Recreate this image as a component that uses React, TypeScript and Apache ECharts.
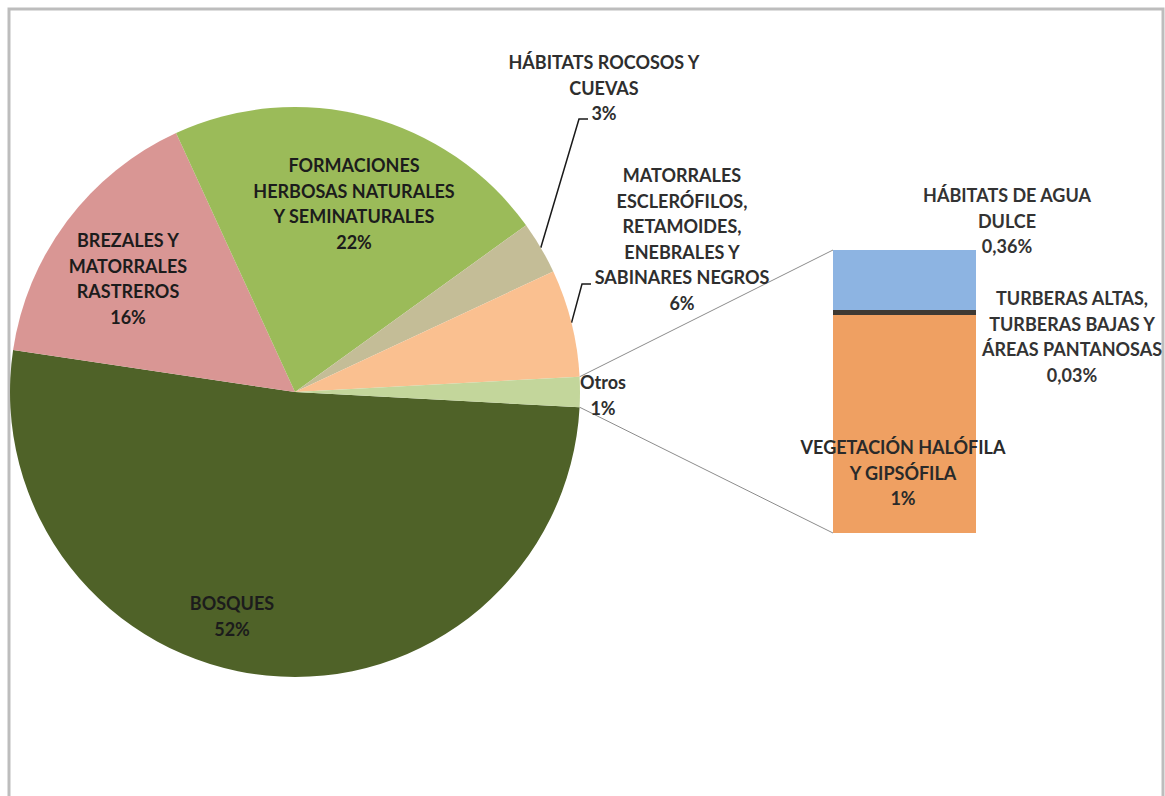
import React, { useEffect, useRef } from "react";
import * as echarts from "echarts";

// ---------- DATA ----------
const pieCategories = [
  "BOSQUES",
  "BREZALES Y\nMATORRALES\nRASTREROS",
  "FORMACIONES\nHERBOSAS NATURALES\nY SEMINATURALES",
  "HÁBITATS ROCOSOS Y\nCUEVAS",
  "MATORRALES\nESCLERÓFILOS,\nRETAMOIDES,\nENEBRALES Y\nSABINARES NEGROS",
  "Otros",
];
const pieValues = [51.5, 15.8, 21.9, 3.0, 6.1, 1.7];
const piePercentLabels = ["52%", "16%", "22%", "3%", "6%", "1%"];
const pieColors = ["#4F6228", "#D99694", "#9BBB59", "#C4BD97", "#FAC090", "#C3D69B"];

const barCategories = [
  "VEGETACIÓN HALÓFILA\nY GIPSÓFILA",
  "TURBERAS ALTAS,\nTURBERAS BAJAS Y\nÁREAS PANTANOSAS",
  "HÁBITATS DE AGUA\nDULCE",
];
const barValues = [1.31, 0.03, 0.36];
const barPercentLabels = ["1%", "0,03%", "0,36%"];
const barColors = ["#EFA062", "#3E3933", "#8DB4E2"];

// ---------- LAYOUT ----------
const W = 1165;
const H = 796;
const PIE_C = [295, 392];
const PIE_R = 285;
const BAR_GRID = { left: 833, top: 250, width: 143, height: 283 };
const LINE_H = 25.5;
const FONT = "Lato, 'Open Sans', sans-serif";
// label block centres (x, first-line y)
const pieLabelAnchors = [
  [232, 603],
  [128, 240],
  [354, 165],
  [604, 62],
  [682, 175],
  [603, 382],
];
const barLabelAnchors = [
  [903, 447],
  [1072, 298],
  [1007, 195],
];
// leader-line elbows for small slices (index -> points after slice edge)
const leaderElbows: Record<number, number[][]> = {
  3: [
    [579, 119],
    [588, 119],
  ],
  4: [
    [582, 284],
    [591, 284],
  ],
};

function lineCount(s: string) {
  return s.split("\n").length;
}

export default function App() {
  const ref = useRef<HTMLDivElement>(null);

  useEffect(() => {
    document.body.style.margin = "0";
    if (!ref.current) return;
    const chart = echarts.init(ref.current, undefined, { renderer: "svg" });

    const total = pieValues.reduce((a, b) => a + b, 0);
    const otrosIdx = pieValues.length - 1;
    const half = (pieValues[otrosIdx] / total) * 180; // degrees
    const startAngle = 360 - half;
    const rad = Math.PI / 180;

    const edgePoint = (deg: number) => [
      PIE_C[0] + PIE_R * Math.cos(deg * rad),
      PIE_C[1] - PIE_R * Math.sin(deg * rad),
    ];

    let cum = 0;
    const mids = pieValues.map((v) => {
      const m = -half - ((cum + v / 2) / total) * 360;
      cum += v;
      return m;
    });

    const pieTexts = pieCategories.map((c, i) => c + "\n" + piePercentLabels[i]);
    const barTexts = barCategories.map((c, i) => c + "\n" + barPercentLabels[i]);

    const graphics: any[] = [
      {
        type: "rect",
        z: -10,
        shape: { x: 9, y: 9, width: 1154, height: 830 },
        style: { fill: "none", stroke: "#BDBDBD", lineWidth: 3 },
        silent: true,
      },
    ];
    const up = edgePoint(half);
    const lo = edgePoint(-half);
    graphics.push({
      type: "line",
      shape: { x1: up[0], y1: up[1], x2: BAR_GRID.left, y2: BAR_GRID.top },
      style: { stroke: "#8C8C8C", lineWidth: 1 },
      silent: true,
    });
    graphics.push({
      type: "line",
      shape: {
        x1: lo[0],
        y1: lo[1],
        x2: BAR_GRID.left,
        y2: BAR_GRID.top + BAR_GRID.height,
      },
      style: { stroke: "#8C8C8C", lineWidth: 1 },
      silent: true,
    });
    Object.keys(leaderElbows).forEach((k) => {
      const i = Number(k);
      const p0 = edgePoint(mids[i]);
      graphics.push({
        type: "polyline",
        shape: { points: [p0, ...leaderElbows[i]] },
        style: { stroke: "#1A1A1A", lineWidth: 1.5, fill: "none" },
        silent: true,
      });
    });

    const labelStyleBase = {
      fontFamily: FONT,
      fontWeight: "bold" as const,
      fontSize: 18,
      lineHeight: LINE_H,
      align: "center" as const,
    };

    const barSeries = barValues.map((v, i) => ({
      type: "bar",
      name: barCategories[i],
      stack: "otros",
      barWidth: "100%",
      data: [v],
      itemStyle: { color: barColors[i] },
      label: {
        show: true,
        position: "inside",
        formatter: barTexts[i],
        color: i === 0 ? "#2A2A2A" : "#333333",
        ...labelStyleBase,
      },
      labelLayout: () => {
        const [x, y0] = barLabelAnchors[i];
        const n = lineCount(barTexts[i]);
        return {
          x,
          y: y0 + ((n - 1) * LINE_H) / 2,
          align: "center",
          verticalAlign: "middle",
        };
      },
    }));

    chart.setOption({
      animation: false,
      backgroundColor: "#FFFFFF",
      graphic: graphics,
      grid: {
        left: BAR_GRID.left,
        top: BAR_GRID.top,
        width: BAR_GRID.width,
        height: BAR_GRID.height,
        containLabel: false,
      },
      xAxis: { type: "category", data: ["Otros"], show: false },
      yAxis: {
        type: "value",
        min: 0,
        max: barValues.reduce((a, b) => a + b, 0),
        show: false,
      },
      series: [
        {
          type: "pie",
          center: PIE_C,
          radius: PIE_R,
          startAngle,
          clockwise: true,
          avoidLabelOverlap: false,
          minAngle: 0,
          itemStyle: { borderWidth: 0 },
          emphasis: { disabled: true },
          labelLine: { show: false },
          data: pieValues.map((v, i) => ({
            value: v,
            name: pieCategories[i],
            itemStyle: { color: pieColors[i] },
            label: {
              show: true,
              position: "inside",
              formatter: pieTexts[i],
              color: i < 3 ? "#1C1C1C" : "#2E2E2E",
              ...labelStyleBase,
            },
          })),
          labelLayout: (params: any) => {
            const i = params.dataIndex;
            const [x, y0] = pieLabelAnchors[i];
            const n = lineCount(pieTexts[i]);
            return {
              x,
              y: y0 + ((n - 1) * LINE_H) / 2,
              align: "center",
              verticalAlign: "middle",
            };
          },
        },
        ...barSeries,
      ],
    });

    return () => chart.dispose();
  }, []);

  return <div ref={ref} style={{ width: W, height: H }} />;
}
